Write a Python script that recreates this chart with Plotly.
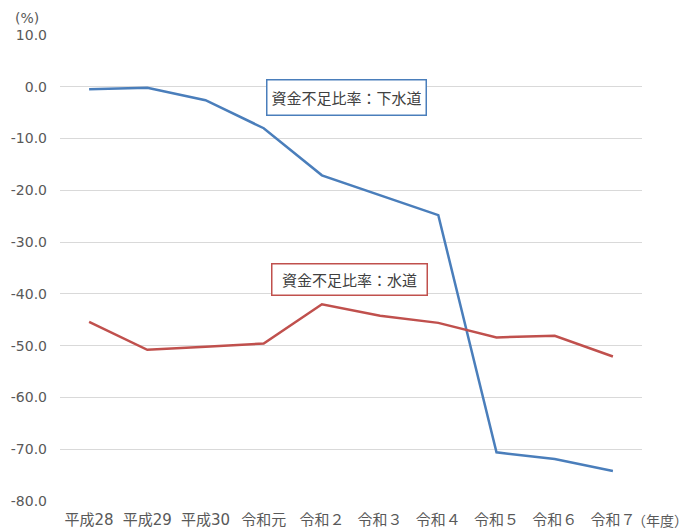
import plotly.graph_objects as go

# 年度
years = ["平成28", "平成29", "平成30", "令和元", "令和２", "令和３", "令和４", "令和５", "令和６", "令和７"]

# 資金不足比率（%）
sewer = [-0.5, -0.2, -2.6, -8.0, -17.1, -20.9, -24.8, -70.6, -71.9, -74.2]
water = [-45.4, -50.8, -50.2, -49.6, -42.0, -44.2, -45.6, -48.4, -48.1, -52.1]

y_ticks = [10, 0, -10, -20, -30, -40, -50, -60, -70, -80]
y_tick_text = ["10.0", "0.0", "-10.0", "-20.0", "-30.0", "-40.0", "-50.0", "-60.0", "-70.0", "-80.0"]

font_family = "DejaVu Sans, Noto Sans CJK JP, sans-serif"
text_gray = "#595959"

fig = go.Figure()

fig.add_trace(go.Scatter(
    x=years, y=sewer, mode="lines",
    line=dict(color="#4a7ebb", width=2.5),
    name="資金不足比率：下水道",
))
fig.add_trace(go.Scatter(
    x=years, y=water, mode="lines",
    line=dict(color="#c0504d", width=2.5),
    name="資金不足比率：水道",
))

# the page body has an 8px margin, so the figure is 8px smaller than the window
fig.update_layout(
    width=682, height=522,
    margin=dict(l=52, r=48, t=27, b=29, autoexpand=False),
    paper_bgcolor="white",
    plot_bgcolor="white",
    showlegend=False,
    font=dict(family=font_family, color=text_gray, size=15),
)

fig.update_xaxes(
    type="category",
    range=[-0.5, 9.5],
    showgrid=False,
    showline=False,
    ticks="",
    ticklabelstandoff=8,
    tickfont=dict(size=15, color=text_gray),
)
fig.update_yaxes(
    range=[-80, 10],
    tickvals=y_ticks,
    ticktext=y_tick_text,
    showgrid=True,
    gridcolor="#d9d9d9",
    gridwidth=1,
    zeroline=False,
    showline=False,
    ticks="",
    ticklabelstandoff=12,
    tickfont=dict(size=14, color=text_gray),
)

# 系列ラベル
fig.add_annotation(
    x=0.493, y=0.866, xref="paper", yref="paper",
    xanchor="center", yanchor="middle",
    text="資金不足比率：下水道", showarrow=False,
    font=dict(size=15, color="#404040", family="Noto Sans CJK JP"),
    width=150, height=26, borderpad=4,
    bordercolor="#4a7ebb", borderwidth=1.5,
    bgcolor="white",
)
fig.add_annotation(
    x=0.4966, y=0.475, xref="paper", yref="paper",
    xanchor="center", yanchor="middle",
    text="資金不足比率：水道", showarrow=False,
    font=dict(size=15, color="#404040", family="Noto Sans CJK JP"),
    width=146, height=22, borderpad=4,
    bordercolor="#c0504d", borderwidth=1.5,
    bgcolor="white",
)

# 単位
fig.add_annotation(
    x=-0.057, y=1.037, xref="paper", yref="paper",
    xanchor="center", yanchor="middle",
    text="(%)", showarrow=False,
    font=dict(size=14, color=text_gray),
)
fig.add_annotation(
    x=1.031, y=-0.041, xref="paper", yref="paper",
    xanchor="center", yanchor="middle",
    text="（年度）", showarrow=False,
    font=dict(size=14, color=text_gray, family="Noto Sans CJK JP"),
)

fig.write_html("out.html")
